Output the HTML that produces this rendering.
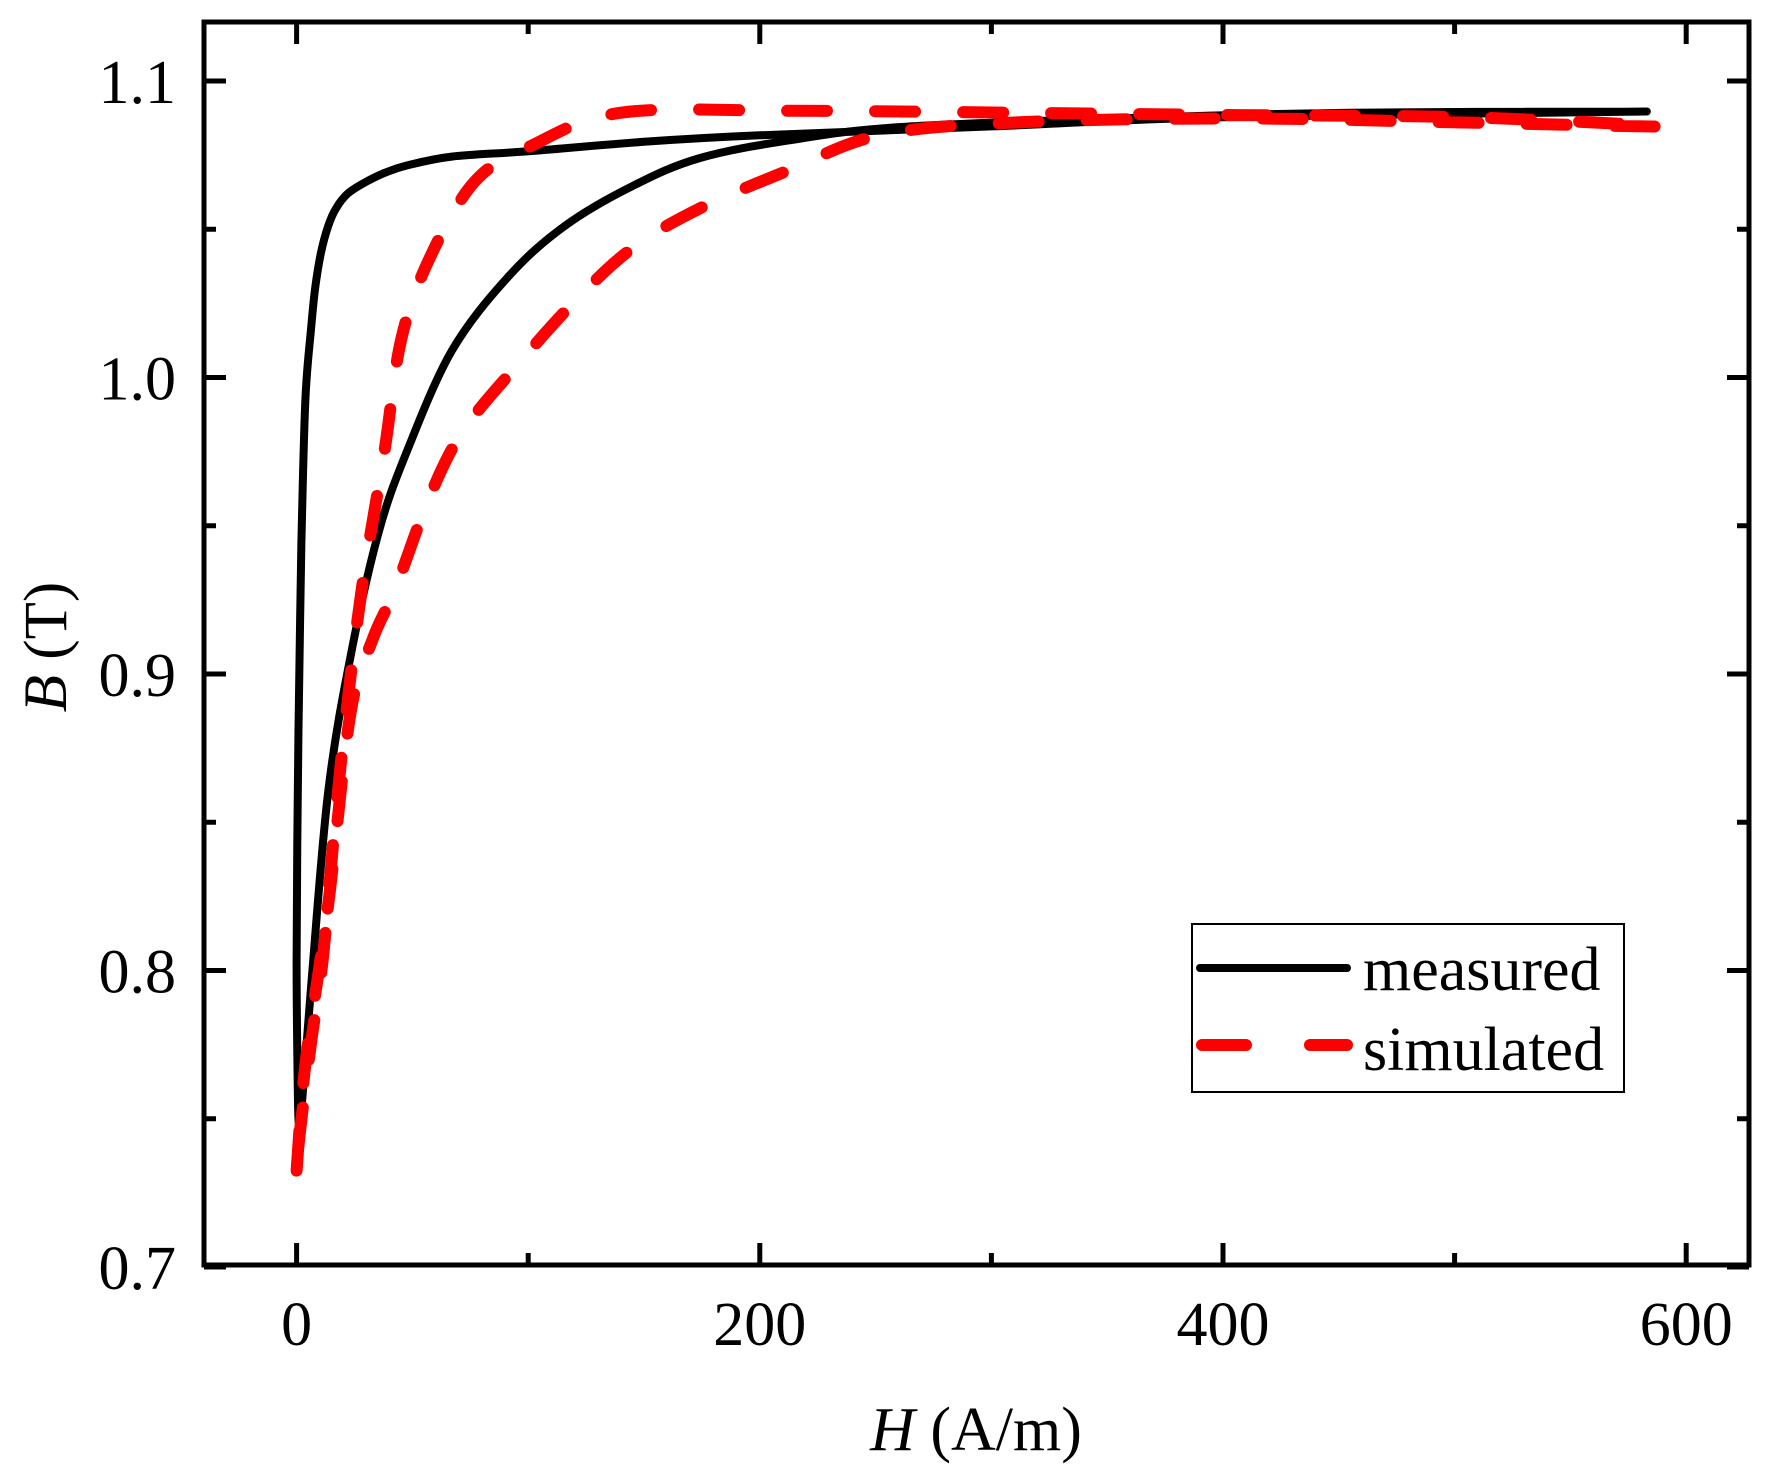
<!DOCTYPE html>
<html><head><meta charset="utf-8"><style>
html,body{margin:0;padding:0;background:#fff;}
svg{display:block;}
text{font-family:"Liberation Serif",serif;fill:#000;}
</style></head><body>
<svg id="chart" width="1765" height="1467" viewBox="0 0 1765 1467">
<g id="plot"></g>
<g id="axes"></g>
<text transform="translate(66,647) rotate(-90)" text-anchor="middle" font-size="61"><tspan font-style="italic">B</tspan> (T)</text>
<text x="976" y="1450" text-anchor="middle" font-size="62"><tspan font-style="italic">H</tspan> (A/m)</text>
<g>
<rect x="1192" y="924" width="432" height="168" fill="#fff" stroke="#000" stroke-width="2"/>
<line x1="1200" y1="968" x2="1347" y2="968" stroke="#000" stroke-width="8" stroke-linecap="round"/>
<text x="1363" y="990" font-size="62">measured</text>
<line x1="1202" y1="1045" x2="1347" y2="1045" stroke="#ff0000" stroke-width="12" stroke-linecap="round" stroke-dasharray="44 64"/>
<text x="1363" y="1070" font-size="62">simulated</text>
</g>
</svg>
<script>
const measuredH = [583,400,300,200,150,100,67,47.6,38,30,22,17,13.6,10.5,8,6.3,3.9,2.4,1.5,0.5,0,0.5,1,2,6.3,13.6,23.3,35.5,47.6,67,91.4,115.6,144.8,174,212.8,261,358.6,455.8,583];
const measuredB = [1.0897,1.0878,1.0847,1.0817,1.0795,1.0763,1.0745,1.0715,1.069,1.066,1.062,1.057,1.051,1.042,1.030,1.017,0.994,0.956,0.918,0.860,0.803,0.760,0.748,0.752,0.795,0.860,0.906,0.948,0.975,1.009,1.034,1.051,1.0645,1.074,1.080,1.0845,1.0875,1.0893,1.0897];
const simulatedH = [0,3.9,13.6,23.3,33,42.8,57.3,71.9,96.2,120.5,144.8,174,212.8,251.7,310,407,504,589,504,407,310,212.8,140,101,76.8,57.3,45.2,37.9,28.2,20.9,16,11.2,6.3,1.5,0];
const simulatedB = [0.7325,0.769,0.822,0.887,0.912,0.929,0.9595,0.982,1.005,1.026,1.0435,1.057,1.070,1.0817,1.086,1.0874,1.086,1.0847,1.0878,1.0885,1.0893,1.090,1.0893,1.078,1.066,1.040,1.013,0.975,0.929,0.883,0.845,0.803,0.776,0.746,0.7325];
const xTicks = [0,200,400,600];
const xMinor = [100,300,500];
const yTicks = [0.7,0.8,0.9,1.0,1.1];
const yMinor = [0.75,0.85,0.95,1.05];

const NS="http://www.w3.org/2000/svg";
const L=204,R=1749,T=22,B=1265;
function sx(h){return 296.6+h*2.316;}
function sy(b){return 81+(1.1-b)*2965;}
function mk(tag,attrs,parent){const e=document.createElementNS(NS,tag);for(const k in attrs)e.setAttribute(k,attrs[k]);parent.appendChild(e);return e;}
const plot=document.getElementById('plot'), axes=document.getElementById('axes');
function smoothD(hs,bs){const p=hs.map((h,i)=>[sx(h),sy(bs[i])]);let d='M'+p[0][0]+','+p[0][1];for(let i=0;i<p.length-1;i++){const p0=p[Math.max(0,i-1)],p1=p[i],p2=p[i+1],p3=p[Math.min(p.length-1,i+2)];const c1=[p1[0]+(p2[0]-p0[0])/6,p1[1]+(p2[1]-p0[1])/6],c2=[p2[0]-(p3[0]-p1[0])/6,p2[1]-(p3[1]-p1[1])/6];d+=' C'+c1[0].toFixed(1)+','+c1[1].toFixed(1)+' '+c2[0].toFixed(1)+','+c2[1].toFixed(1)+' '+p2[0].toFixed(1)+','+p2[1].toFixed(1);}return d;}
const m=mk('path',{d:smoothD(measuredH,measuredB),fill:'none',stroke:'#000','stroke-width':8,'stroke-linejoin':'round','stroke-linecap':'round'},plot);


const s=mk('path',{d:smoothD(simulatedH,simulatedB),fill:'none',stroke:'#ff0000','stroke-width':12,'stroke-linecap':'round','stroke-dasharray':'40 48'},plot);


const frame=mk('rect',{x:L,y:T,width:R-L,height:B-T,fill:'none',stroke:'#000','stroke-width':5},axes);


xTicks.forEach(v=>{const x=sx(v);
 mk('line',{x1:x,y1:B,x2:x,y2:B-22,stroke:'#000','stroke-width':5},axes);
 mk('line',{x1:x,y1:T,x2:x,y2:T+22,stroke:'#000','stroke-width':5},axes);
 const t=mk('text',{x:x,y:1345,'text-anchor':'middle','font-size':62},axes);t.textContent=String(v);
 
 });
xMinor.forEach(v=>{const x=sx(v);
 mk('line',{x1:x,y1:B,x2:x,y2:B-12,stroke:'#000','stroke-width':5},axes);
 mk('line',{x1:x,y1:T,x2:x,y2:T+12,stroke:'#000','stroke-width':5},axes);});
yTicks.forEach(v=>{const y=sy(v);
 mk('line',{x1:L,y1:y,x2:L+22,y2:y,stroke:'#000','stroke-width':5},axes);
 mk('line',{x1:R,y1:y,x2:R-22,y2:y,stroke:'#000','stroke-width':5},axes);
 const t=mk('text',{x:176,y:y+22,'text-anchor':'end','font-size':62},axes);t.textContent=v.toFixed(1);
 
 });
yMinor.forEach(v=>{const y=sy(v);
 mk('line',{x1:L,y1:y,x2:L+12,y2:y,stroke:'#000','stroke-width':5},axes);
 mk('line',{x1:R,y1:y,x2:R-12,y2:y,stroke:'#000','stroke-width':5},axes);});
</script>
</body></html>
